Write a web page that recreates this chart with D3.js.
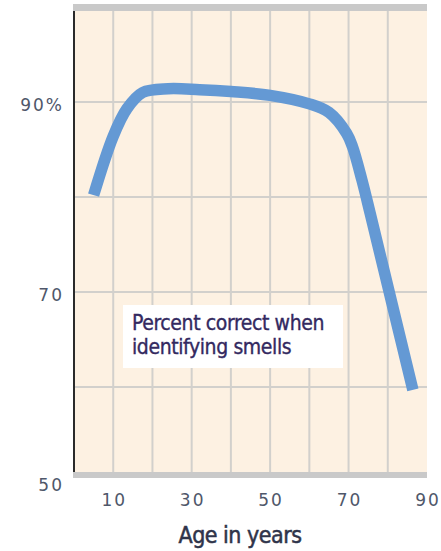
<!DOCTYPE html>
<html>
<head>
<meta charset="utf-8">
<script src="https://cdn.jsdelivr.net/npm/d3@7"></script>
<style>
  html, body { margin: 0; padding: 0; background: #ffffff; }
  svg { display: block; }
</style>
</head>
<body>
<svg id="chart" width="441" height="551"></svg>
<script>
// Share of smells identified correctly, by age
const ages = [5, 10, 13.5, 17.5, 24, 32, 40, 50, 60, 65, 69.5, 71, 73.4, 75.5, 81, 86.4];
const percentCorrect = [80.2, 86.4, 89.3, 91.0, 91.4, 91.3, 91.1, 90.7, 89.8, 88.9, 86.7, 85.3, 81.8, 78.3, 68.9, 59.7];

const yTickValues = [50, 70, 90];
const yTickLabels = ["50", "70", "90%"];
const yGridValues = [60, 70, 80, 90];
const xTickValues = [10, 30, 50, 70, 90];
const xGridValues = [10, 20, 30, 40, 50, 60, 70, 80];
const noteLines = ["Percent correct when", "identifying smells"];
const xTitle = "Age in years";

const svg = d3.select("#chart");

const x = d3.scaleLinear().domain([0, 90]).range([74, 427]);
const y = d3.scaleLinear().domain([50, 100]).range([482, 7]);

const plotTop = 4, plotBottom = 478;
const left = x(0), right = x(90);

// panel background
svg.append("rect")
  .attr("x", left).attr("y", plotTop)
  .attr("width", right - left).attr("height", plotBottom - plotTop)
  .attr("fill", "#fdf1e2");

// grid
const grid = svg.append("g").attr("stroke", "#d2d0cc").attr("stroke-width", 2);
grid.selectAll("line.v").data(xGridValues).join("line")
  .attr("class", "v")
  .attr("x1", d => x(d)).attr("x2", d => x(d))
  .attr("y1", plotTop).attr("y2", plotBottom);
grid.selectAll("line.h").data(yGridValues).join("line")
  .attr("class", "h")
  .attr("x1", left).attr("x2", right)
  .attr("y1", d => y(d)).attr("y2", d => y(d));

// top and bottom bands
svg.append("rect").attr("x", left - 1).attr("y", plotTop)
  .attr("width", right - left + 1).attr("height", 7).attr("fill", "#c9c9c9");
svg.append("rect").attr("x", left - 1).attr("y", 472)
  .attr("width", right - left + 1).attr("height", 6).attr("fill", "#c9c9c9");

// left axis rule
svg.append("line")
  .attr("x1", left).attr("x2", left)
  .attr("y1", 11).attr("y2", 472)
  .attr("stroke", "#2a2a2a").attr("stroke-width", 2);

// note box
const note = svg.append("g");
note.append("rect")
  .attr("x", 123).attr("y", 305).attr("width", 220).attr("height", 63)
  .attr("fill", "#ffffff");
note.selectAll("text").data(noteLines).join("text")
  .attr("x", 132)
  .attr("y", (d, i) => 330 + i * 24)
  .attr("font-family", "'DejaVu Sans Condensed', 'DejaVu Sans', sans-serif")
  .attr("font-stretch", "condensed")
  .attr("font-size", 21)
  .attr("letter-spacing", -0.4)
  .attr("stroke", "#33295f")
  .attr("stroke-width", 0.35)
  .attr("fill", "#33295f")
  .text(d => d);

// data line
const line = d3.line()
  .x((d, i) => x(ages[i]))
  .y(d => y(d))
  .curve(d3.curveCatmullRom.alpha(0.5));

svg.append("path")
  .datum(percentCorrect)
  .attr("d", line)
  .attr("fill", "none")
  .attr("stroke", "#6499d4")
  .attr("stroke-width", 11.5)
  .attr("stroke-linejoin", "round")
  .attr("stroke-linecap", "butt");

// y labels
svg.append("g").selectAll("text").data(yTickValues).join("text")
  .attr("x", 64)
  .attr("y", d => y(d) + 3.5)
  .attr("dy", "0.35em")
  .attr("text-anchor", "end")
  .attr("font-family", "'DejaVu Sans', sans-serif")
  .attr("font-size", 17)
  .attr("letter-spacing", 2)
  .attr("fill", "#4f576a")
  .text((d, i) => yTickLabels[i]);

// x labels
svg.append("g").selectAll("text").data(xTickValues).join("text")
  .attr("x", d => x(d) + 1)
  .attr("y", 500)
  .attr("dy", "0.35em")
  .attr("text-anchor", "middle")
  .attr("font-family", "'DejaVu Sans', sans-serif")
  .attr("font-size", 17)
  .attr("letter-spacing", 2)
  .attr("fill", "#4f576a")
  .text(d => d);

// x title
svg.append("text")
  .attr("x", 240).attr("y", 543)
  .attr("text-anchor", "middle")
  .attr("font-family", "'DejaVu Sans Condensed', 'DejaVu Sans', sans-serif")
  .attr("font-stretch", "condensed")
  .attr("font-size", 23)
  .attr("letter-spacing", -0.5)
  .attr("stroke", "#2f344a")
  .attr("stroke-width", 0.5)
  .attr("fill", "#2f344a")
  .text(xTitle);
</script>
</body>
</html>
